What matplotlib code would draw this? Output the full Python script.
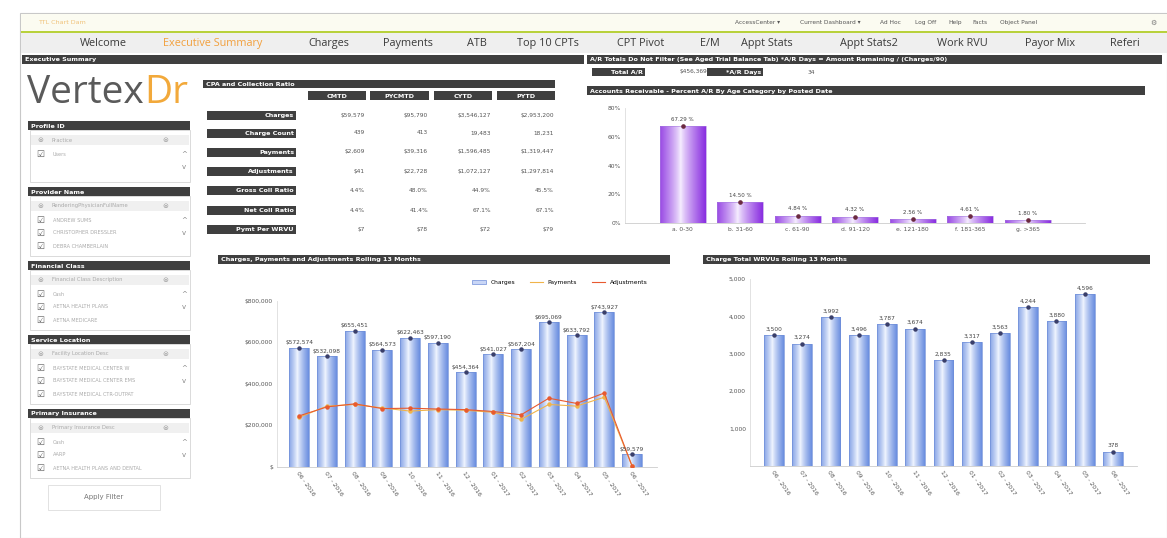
import numpy as np
import matplotlib
matplotlib.use("Agg")
import matplotlib.pyplot as plt
from matplotlib.patches import Rectangle
from matplotlib.colors import LinearSegmentedColormap
from matplotlib.lines import Line2D
from matplotlib.ticker import FuncFormatter

W, H = 1167, 538

# ---- data ----
tabs = ["Welcome", "Executive Summary", "Charges", "Payments", "ATB", "Top 10 CPTs",
        "CPT Pivot", "E/M", "Appt Stats", "Appt Stats2", "Work RVU", "Payor Mix", "Referi"]
top_links = ["AccessCenter \u25be", "Current Dashboard \u25be", "Ad Hoc", "Log Off", "Help", "Facts", "Object Panel"]

kpi_cols = ["CMTD", "PYCMTD", "CYTD", "PYTD"]
kpi_rows = ["Charges", "Charge Count", "Payments", "Adjustments",
            "Gross Coll Ratio", "Net Coll Ratio", "Pymt Per WRVU"]
kpi_vals = [
    ["$59,579", "$95,790", "$3,546,127", "$2,953,200"],
    ["439", "413", "19,483", "18,231"],
    ["$2,609", "$39,316", "$1,596,485", "$1,319,447"],
    ["$41", "$22,728", "$1,072,127", "$1,297,814"],
    ["4.4%", "48.0%", "44.9%", "45.5%"],
    ["4.4%", "41.4%", "67.1%", "67.1%"],
    ["$7", "$78", "$72", "$79"],
]

total_ar = "$456,369"
ar_days = "34"
ar_cats = ["a. 0-30", "b. 31-60", "c. 61-90", "d. 91-120", "e. 121-180", "f. 181-365", "g. >365"]
ar_pct = [67.29, 14.50, 4.84, 4.32, 2.56, 4.61, 1.80]

months = ["06 - 2016", "07 - 2016", "08 - 2016", "09 - 2016", "10 - 2016", "11 - 2016",
          "12 - 2016", "01 - 2017", "02 - 2017", "03 - 2017", "04 - 2017", "05 - 2017", "06 - 2017"]
charges = [572574, 532098, 655451, 564573, 622463, 597190, 454364,
           541027, 567204, 695069, 633792, 743927, 59579]
payments = [238000, 292000, 300000, 283000, 268000, 275000, 272000,
            262000, 228000, 300000, 292000, 335000, 5000]
adjustments = [245000, 288000, 303000, 280000, 282000, 278000, 275000,
               266000, 250000, 330000, 305000, 355000, 3000]
wrvu = [3500, 3274, 3992, 3496, 3787, 3674, 2835, 3317, 3563, 4244, 3880, 4596, 378]

filters = [
    ("Profile ID", "Practice", ["Users"]),
    ("Provider Name", "RenderingPhysicianFullName", ["ANDREW SUMS", "CHRISTOPHER DRESSLER", "DEBRA CHAMBERLAIN"]),
    ("Financial Class", "Financial Class Description", ["Cash", "AETNA HEALTH PLANS", "AETNA MEDICARE"]),
    ("Service Location", "Facility Location Desc", ["BAYSTATE MEDICAL CENTER W", "BAYSTATE MEDICAL CENTER EMS",
                                                    "BAYSTATE MEDICAL CTR-OUTPAT"]),
    ("Primary Insurance", "Primary Insurance Desc", ["Cash", "AARP", "AETNA HEALTH PLANS AND DENTAL"]),
]

DARK = "#3f3f3f"

fig = plt.figure(figsize=(W / 100, H / 100), dpi=100)
fig.patch.set_facecolor("white")

bg = fig.add_axes([0, 0, 1, 1])
bg.set_xlim(0, W)
bg.set_ylim(H, 0)
bg.axis("off")


def px_axes(x0, y0, x1, y1):
    return fig.add_axes([x0 / W, 1 - y1 / H, (x1 - x0) / W, (y1 - y0) / H])


def header(x0, y0, x1, y1, text, ha="left"):
    bg.add_patch(Rectangle((x0, y0), x1 - x0, y1 - y0, color=DARK, lw=0))
    if ha == "left":
        bg.text(x0 + 3, (y0 + y1) / 2 + 0.5, text, color="white", fontsize=4.6,
                fontweight="bold", va="center", ha="left")
    elif ha == "right":
        bg.text(x1 - 2, (y0 + y1) / 2 + 0.5, text, color="white", fontsize=4.6,
                fontweight="bold", va="center", ha="right")
    else:
        bg.text((x0 + x1) / 2, (y0 + y1) / 2 + 0.5, text, color="white", fontsize=4.6,
                fontweight="bold", va="center", ha="center")


def gradient_fill(ax, bars, light, dark, center=0.42):
    cmap = LinearSegmentedColormap.from_list("g", [light, dark])
    xs = np.linspace(0, 1, 80)
    t = np.clip(np.abs(xs - center) / (1 - center), 0, 1) ** 0.8
    img = t.reshape(1, -1)
    for b in bars:
        x, y = b.get_xy()
        w, h = b.get_width(), b.get_height()
        im = ax.imshow(img, extent=[x, x + w, y, y + h], aspect="auto", cmap=cmap,
                       vmin=0, vmax=1, zorder=2, interpolation="bilinear")
        im.set_clip_path(b)


# ---- page chrome ----
bg.add_patch(Rectangle((20, 13), W - 20, H - 13, facecolor="white", edgecolor="#c8c8c8", lw=0.8))
bg.add_patch(Rectangle((21, 14), W - 21, 17, facecolor="#fbfbf1", lw=0))
bg.text(38, 22.5, "TTL Chart Dam", color="#f0c27a", fontsize=4.6, va="center")
link_x = [735, 800, 880, 915, 948, 972, 1000]
for lx, lt in zip(link_x, top_links):
    bg.text(lx, 22.5, lt, color="#555555", fontsize=4.2, va="center")
bg.text(1150, 22.5, "\u2699", color="#777777", fontsize=5, va="center")
bg.add_patch(Rectangle((21, 31), W - 21, 2, color="#b8d13c", lw=0))
bg.add_patch(Rectangle((21, 33), W - 21, 20, facecolor="#efefef", lw=0))
tab_x = [80, 163, 308, 383, 467, 517, 617, 700, 741, 840, 937, 1025, 1110]
for tx, tt in zip(tab_x, tabs):
    col = "#f2a03d" if tt == "Executive Summary" else "#3a3a3a"
    bg.text(tx, 43.5, tt, color=col, fontsize=7.8, va="center", family="Open Sans")

# ---- section headers ----
header(22, 55, 584, 64, "Executive Summary")
header(587, 55, 1162, 64, "A/R Totals Do Not Filter (See Aged Trial Balance Tab) *A/R Days = "
       "Amount Remaining / (Charges/90)")

# logo
logo = bg.text(27, 103, "Vertex", color="#5a5a5a", fontsize=28, va="baseline", family="Open Sans")
bg.annotate("Dr", xy=(1, 0), xycoords=logo, va="bottom", ha="left",
            color="#f2a93b", fontsize=28, family="Open Sans")

# ---- filter sidebar ----
hdr_y = [121, 187, 261, 335, 409]
box_end = [182, 256, 330, 404, 478]
for (name, field, items), hy, be in zip(filters, hdr_y, box_end):
    bg.add_patch(Rectangle((30, hy + 9), 160, be - hy - 9, facecolor="white", edgecolor="#d5d5d5", lw=0.6))
    header(28, hy, 190, hy + 9, name)
    bg.add_patch(Rectangle((31, hy + 14), 158, 10, facecolor="#f0f0f0", lw=0))
    bg.text(37, hy + 19, "\u229c", color="#999999", fontsize=5, va="center")
    bg.text(52, hy + 19, field, color="#aaaaaa", fontsize=3.8, va="center")
    bg.text(162, hy + 19, "\u229c", color="#999999", fontsize=5, va="center")
    for k, it in enumerate(items):
        yy = hy + 33 + 13 * k
        bg.text(36, yy, "\u2611", color="#666666", fontsize=6.5, va="center")
        bg.text(53, yy, it, color="#aaaaaa", fontsize=3.6, va="center")
    bg.text(184, hy + 33, "^", color="#888888", fontsize=5, va="center", ha="center")
    bg.text(184, hy + 46, "v", color="#888888", fontsize=5, va="center", ha="center")

bg.add_patch(Rectangle((48, 485), 112, 25, facecolor="white", edgecolor="#dddddd", lw=0.6))
bg.text(104, 497.5, "Apply Filter", color="#777777", fontsize=5, ha="center", va="center")

# ---- KPI table ----
header(203, 80, 555, 88, "CPA and Collection Ratio")
col_x = [(308, 366), (370, 429), (434, 492), (497, 555)]
for (c0, c1), cn in zip(col_x, kpi_cols):
    header(c0, 91, c1, 100, cn, ha="center")
row_y = [115, 133, 152, 171, 190, 210, 229]
for ry, rn, vals in zip(row_y, kpi_rows, kpi_vals):
    header(207, ry - 4.5, 296, ry + 4.5, rn, ha="right")
    for (c0, c1), v in zip(col_x, vals):
        bg.text(c1 - 1, ry, v, color="#555555", fontsize=4.2, ha="right", va="center")

# ---- A/R totals ----
header(592, 68, 645, 76, "Total A/R", ha="right")
bg.text(680, 72, total_ar, color="#555555", fontsize=4.2, va="center")
header(707, 68, 763, 76, "*A/R Days", ha="right")
bg.text(808, 72, ar_days, color="#555555", fontsize=4.2, va="center")
header(587, 86, 1145, 95, "Accounts Receivable - Percent A/R By Age Category by Posted Date")

# ---- A/R by age chart ----
ax1 = px_axes(625, 108.3, 1085, 222.7)
x1 = np.arange(len(ar_cats))
b1 = ax1.bar(x1, ar_pct, width=0.8, color="none", edgecolor="#a77be0", lw=0.4, zorder=3)
gradient_fill(ax1, b1, "#f7f0ff", "#8a2fe0", center=0.45)
ax1.plot(x1, ar_pct, "o", ms=2.3, color="#6b2a40", zorder=4)
for xi, v in zip(x1, ar_pct):
    ax1.text(xi, v + 3, f"{v:.2f} %", ha="center", va="bottom", fontsize=4, color="#444444")
ax1.set_xlim(-1, 7)
ax1.set_ylim(0, 80)
ax1.set_yticks([0, 20, 40, 60, 80])
ax1.yaxis.set_major_formatter(FuncFormatter(lambda v, p: f"{v:.0f}%"))
ax1.set_xticks(x1)
ax1.set_xticklabels(ar_cats)

# ---- charges chart ----
header(218, 255, 670, 264, "Charges, Payments and Adjustments Rolling 13 Months")
ax2 = px_axes(277, 300.7, 657, 466.7)
x2 = np.arange(len(months))
b2 = ax2.bar(x2, charges, width=0.72, color="none", edgecolor="#6f8ed8", lw=0.5, zorder=3)
gradient_fill(ax2, b2, "#f3f7ff", "#6a8ee0", center=0.42)
ax2.plot(x2, charges, "o", ms=2.2, color="#3a3f6a", zorder=4)
ax2.plot(x2, payments, "-o", ms=2.2, lw=0.8, color="#f0b44a", zorder=5)
ax2.plot(x2, adjustments, "-o", ms=2.2, lw=0.8, color="#e85a30", zorder=6)
for xi, v in zip(x2, charges):
    ax2.text(xi, v + 12000, f"${v:,.0f}", ha="center", va="bottom", fontsize=4.2, color="#444444", zorder=7)
ax2.set_xlim(-0.8, 12.9)
ax2.set_ylim(0, 800000)
ax2.set_yticks([0, 200000, 400000, 600000, 800000])
ax2.yaxis.set_major_formatter(FuncFormatter(lambda v, p: "$" if v == 0 else f"${v:,.0f}"))
ax2.set_xticks(x2)
ax2.set_xticklabels(months, rotation=-55, ha="left", rotation_mode="anchor")
handles = [Rectangle((0, 0), 1, 1, facecolor="#c9d6f6", edgecolor="#6f8ed8", lw=0.5),
           Line2D([], [], color="#f0b44a", lw=0.8),
           Line2D([], [], color="#e85a30", lw=0.8)]
ax2.legend(handles, ["Charges", "Payments", "Adjustments"], loc="center right",
           bbox_to_anchor=(0.99, 1.11), ncol=3, frameon=False, fontsize=4.3,
           handlelength=2.2, columnspacing=2.5)

# ---- WRVU chart ----
header(703, 255, 1150, 264, "Charge Total WRVUs Rolling 13 Months")
ax3 = px_axes(750, 279, 1137, 466)
b3 = ax3.bar(x2, wrvu, width=0.7, color="none", edgecolor="#6f8ed8", lw=0.5, zorder=3)
gradient_fill(ax3, b3, "#f3f7ff", "#6a8ee0", center=0.42)
ax3.plot(x2, wrvu, "o", ms=2.2, color="#3a3f6a", zorder=4)
for xi, v in zip(x2, wrvu):
    ax3.text(xi, v + 90, f"{v:,.0f}", ha="center", va="bottom", fontsize=4.2, color="#444444")
ax3.set_xlim(-0.85, 12.85)
ax3.set_ylim(0, 5000)
ax3.set_yticks([1000, 2000, 3000, 4000, 5000])
ax3.yaxis.set_major_formatter(FuncFormatter(lambda v, p: f"{v:,.0f}"))
ax3.set_xticks(x2)
ax3.set_xticklabels(months, rotation=-55, ha="left", rotation_mode="anchor")

for ax in (ax1, ax2, ax3):
    ax.set_facecolor("none")
    for s in ("top", "right"):
        ax.spines[s].set_visible(False)
    ax.spines["left"].set_color("#dddddd")
    ax.spines["bottom"].set_color("#cccccc")
    ax.spines["left"].set_linewidth(0.6)
    ax.spines["bottom"].set_linewidth(0.6)
    ax.tick_params(length=0, labelsize=4.3, colors="#555555", pad=3)

fig.savefig("out.png", dpi=100)
